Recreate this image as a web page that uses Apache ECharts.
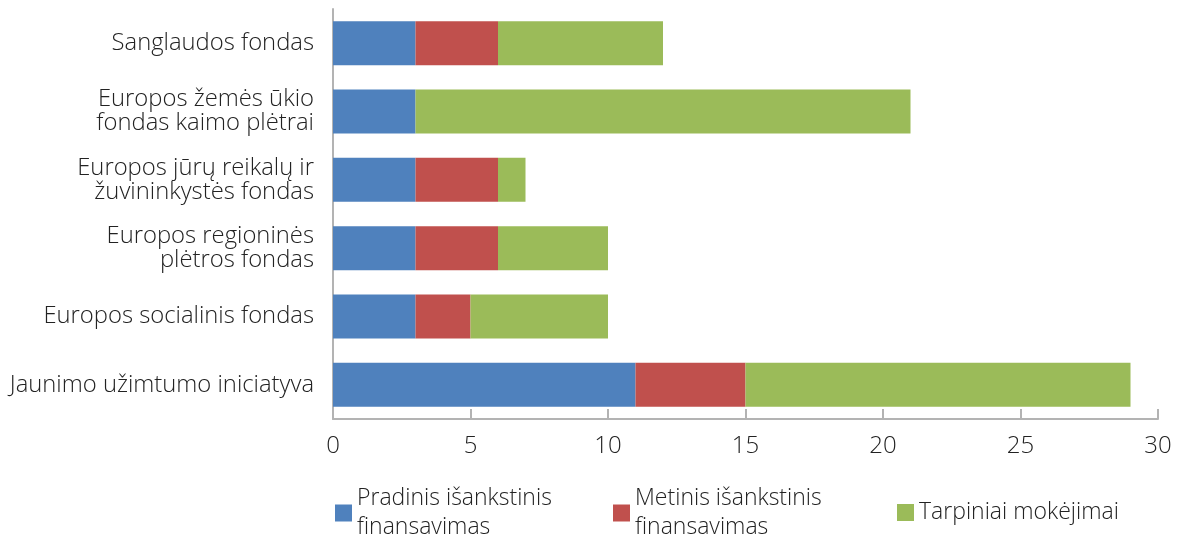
<!DOCTYPE html>
<html>
<head>
<meta charset="utf-8">
<script src="https://cdn.jsdelivr.net/npm/echarts@6/dist/echarts.min.js"></script>
<style>
html, body { margin: 0; padding: 0; background: #fff; }
#chart { width: 1178px; height: 538px; }
</style>
</head>
<body>
<div id="chart"></div>
<script>
// fondai, iš viršaus į apačią
const categories = [
  'Sanglaudos fondas',
  'Europos žemės ūkio\nfondas kaimo plėtrai',
  'Europos jūrų reikalų ir\nžuvininkystės fondas',
  'Europos regioninės\nplėtros fondas',
  'Europos socialinis fondas',
  'Jaunimo užimtumo iniciatyva'
]
const pradinis = [3, 3, 3, 3, 3, 11]
const metinis = [3, 0, 3, 3, 2, 4]
const tarpiniai = [6, 18, 1, 4, 5, 14]
const xTicks = [0, 5, 10, 15, 20, 25, 30]

const seriesNames = ['Pradinis išankstinis\nfinansavimas', 'Metinis išankstinis\nfinansavimas', 'Tarpiniai mokėjimai']
const colors = ['#4f81bd', '#c0504d', '#9bbb59']
const font = '"Open Sans", "DejaVu Sans", sans-serif'

const chart = echarts.init(document.getElementById('chart'))

const legendBase = {
  padding: 0,
  itemWidth: 17,
  itemHeight: 17,
  itemGap: 6,
  icon: 'rect',
  textStyle: { fontFamily: font, fontSize: 23, color: '#222', lineHeight: 29, fontWeight: 300 }
}

let option = {
  animation: false,
  grid: {
    left: 333,
    right: 20,
    top: 9,
    bottom: 119,
    containLabel: false
  },
  legend: [
    Object.assign({}, legendBase, { left: 335, top: 484, data: [seriesNames[0]] }),
    Object.assign({}, legendBase, { left: 613, top: 484, data: [seriesNames[1]] }),
    Object.assign({}, legendBase, { left: 897, top: 498, data: [seriesNames[2]] })
  ],
  xAxis: {
    type: 'value',
    min: 0,
    max: 30,
    interval: 5,
    splitLine: { show: false },
    axisLine: { show: true, lineStyle: { color: '#b3b3b3', width: 2 } },
    axisTick: { show: true, inside: true, length: 10, lineStyle: { color: '#b3b3b3', width: 2 } },
    axisLabel: {
      margin: 15,
      fontFamily: font,
      fontSize: 24,
      fontWeight: 300,
      color: '#222',
      formatter: v => xTicks.includes(v) ? String(v) : ''
    }
  },
  yAxis: {
    type: 'category',
    inverse: true,
    data: categories,
    axisLine: { show: true, lineStyle: { color: '#b3b3b3', width: 2 } },
    axisTick: { show: false },
    axisLabel: {
      margin: 19,
      fontFamily: font,
      fontSize: 23.8,
      fontWeight: 300,
      lineHeight: 24,
      color: '#222'
    }
  },
  series: [
    { name: seriesNames[0], type: 'bar', stack: 'total', data: pradinis, barWidth: 44, itemStyle: { color: colors[0] } },
    { name: seriesNames[1], type: 'bar', stack: 'total', data: metinis, barWidth: 44, itemStyle: { color: colors[1] } },
    { name: seriesNames[2], type: 'bar', stack: 'total', data: tarpiniai, barWidth: 44, itemStyle: { color: colors[2] } }
  ]
}
chart.setOption(option)
</script>
</body>
</html>
